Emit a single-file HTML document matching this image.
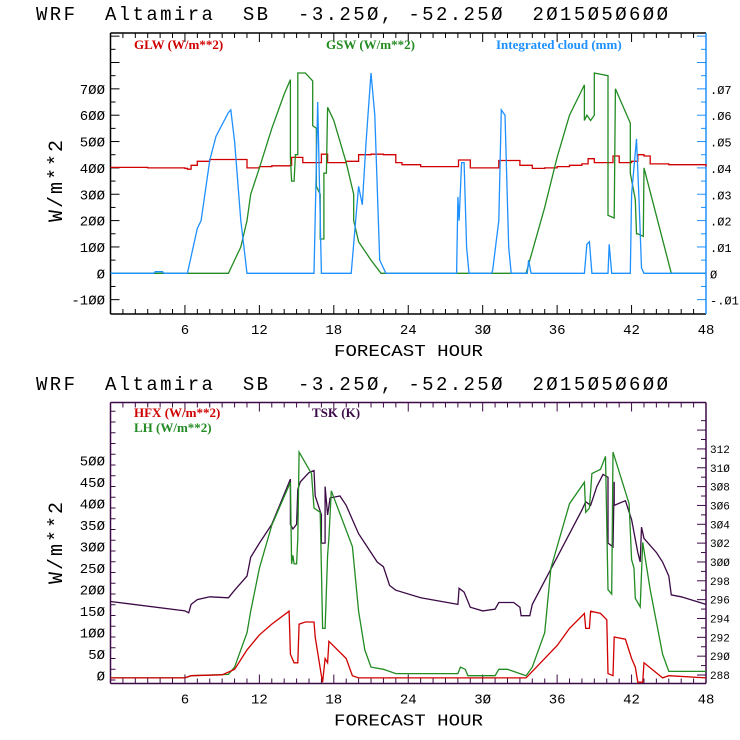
<!DOCTYPE html>
<html><head><meta charset="utf-8"><style>
html,body{margin:0;padding:0;background:#fff;}
svg{display:block;}
text{font-family:"Liberation Mono",monospace;}
.t{font-size:19px;}
.tk{font-size:14px;}
.lg{font-family:"Liberation Serif",serif;font-size:13px;font-weight:bold;}
</style></head><body>
<svg id="c" width="740" height="740" viewBox="0 0 740 740" xmlns="http://www.w3.org/2000/svg"></svg>
<script>
// ---- Top panel data ----
const glwHours=[0,3,6,6.2,6.5,7,8,10.5,11,12,13,14.5,14.6,15,15.5,17,17.5,19,20,21,22,23,23.5,25,28,28.05,28.5,29,31,31.3,32.5,33,34,35,36,37,38,38.5,39,40,40.5,41,42,42.5,43,43.5,45,48];
const glwVals=[402,400,398,395,410,425,432,432,400,405,408,410,440,440,420,452,420,425,450,452,450,420,412,405,405,430,430,400,400,428,428,410,398,400,405,410,415,435,420,420,445,420,425,450,445,415,412,405];
const gswHours=[0,9.5,10,10.5,11,11.3,12,13,14,14.5,14.5,14.6,14.8,14.9,15.1,15.1,15.7,16.3,16.3,16.6,16.6,16.9,16.9,17.2,17.2,17.4,17.5,18,19,19.6,19.6,20,21,21.8,33.5,35,36,37,38.2,38.2,38.4,38.7,39,39,40.1,40.1,40.6,40.7,41.9,41.9,42.3,42.4,42.5,42.95,43.0,45.2,48];
const gswVals=[0,0,50,100,200,300,400,550,680,735,440,350,350,450,450,760,760,730,560,550,330,300,130,130,380,380,630,580,420,300,200,120,50,0,0,250,440,600,715,580,600,580,600,760,750,220,210,700,570,380,280,150,150,140,400,0,0];
const cldHours=[0,3.5,3.6,4.2,4.3,6.2,7,7.3,8,8.5,9.5,9.7,10,10.5,11,16.4,16.7,17,19.4,19.8,20,20.3,20.6,21,21.3,21.7,22.2,27.9,28.0,28.1,28.3,28.5,28.7,28.9,30.7,30.8,31.3,31.5,31.8,32.1,32.3,33.6,33.7,33.9,38.2,38.4,38.6,38.8,40.1,40.2,40.4,41.9,42.0,42.4,42.6,42.8,43.0,48];
const cldVals=[0,0,0.0006,0.0006,0,0,0.017,0.02,0.043,0.052,0.061,0.062,0.05,0.02,0,0,0.065,0,0,0.022,0.033,0.026,0.05,0.076,0.06,0.005,0,0,0.029,0.02,0.042,0.042,0.01,0,0,0.001,0.02,0.062,0.06,0.01,0,0,0.005,0,0,0.011,0.012,0,0,0.011,0,0,0.03,0.051,0.028,0.002,0,0];
const topLeftTicks=[-100,0,100,200,300,400,500,600,700];
const topRightTicks=["-.01","0",".01",".02",".03",".04",".05",".06",".07"];
const xTicks=[6,12,18,24,30,36,42,48];
// ---- Bottom panel data ----
const tskHours=[0,6,6.3,6.5,7,8,9.5,10,11,11.3,12,13,14.5,14.5,14.7,15,15.1,15.3,16,16.4,16.5,17,17,17.3,17.3,17.5,17.7,18.5,19,19.5,20,20.5,21.5,22,22.5,23,25,28,28.1,28.5,29,30,31,31.3,32.5,33,33.1,33.8,34,35,36,37,38,38.3,38.7,39.2,39.7,40.1,40.1,40.5,40.6,40.6,41.5,42,42.5,42.7,42.8,43,44,44.5,45,45.2,46,48];
const tskVals=[295.8,294.8,294.6,295.5,296,296.3,296.2,297,298.5,300.5,302,304,308.8,304,303.5,304,307.7,308.5,309.5,309.7,307,305,302,302,308,305,306.8,307,306,304.5,303,302,300,299.5,297.5,297,296.2,295.5,297.2,296.8,295.2,294.8,295,295.7,295.7,295.2,294.3,294.3,295.5,298,300.5,303,305.5,306.4,306,308,309.3,309,302,301.6,308.5,306,306.5,304.5,301,300,303.7,302.5,301,300,298.5,296.5,296.3,295.5];
const lhHours=[0,6,6.5,9.5,10,11,11.3,12,13,14.5,14.6,14.7,14.8,15.0,15.1,15.2,16.2,16.4,16.9,17,17.1,17.3,17.5,17.6,17.8,19.5,20,20.5,21,22,23,28,28.2,28.6,28.8,31,31.3,32,33,33.5,34,35,35.5,37,38.2,38.3,38.6,38.8,39.5,39.9,40.1,40.4,40.5,41.8,42,42.2,42.3,42.7,42.9,43.5,44.5,45,48];
const lhVals=[-5,-5,0,3,20,100,150,250,350,450,260,280,260,260,320,520,470,390,380,250,110,110,280,320,430,300,150,60,20,15,5,5,20,15,0,0,15,15,5,0,20,100,250,400,450,380,390,470,480,510,200,190,520,400,270,250,180,160,310,200,50,10,10];
const hfxHours=[0,6,6.5,9,10,11,12,13,14.4,14.5,14.8,15.1,15.2,15.7,16.4,16.5,17,17.1,17.3,17.5,17.6,19,19.5,20,33.5,34,36,37,38.2,38.3,38.6,38.7,39.5,40,40.1,40.5,40.6,41.5,42,42.3,42.5,42.9,43,44.5,45,48];
const hfxVals=[-5,-5,0,2,15,60,95,120,150,50,30,30,120,125,125,90,0,-15,40,30,80,40,0,-5,-5,10,70,110,145,110,110,150,145,130,5,0,90,85,40,20,-15,-15,30,-5,0,-5];
const botLeftTicks=[0,50,100,150,200,250,300,350,400,450,500];
const botRightTicks=[288,290,292,294,296,298,300,302,304,306,308,310,312];

const svg=document.getElementById('c');
const NS='http://www.w3.org/2000/svg';
function mk(tag,attrs,parent){const e=document.createElementNS(NS,tag);for(const k in attrs)e.setAttribute(k,attrs[k]);(parent||svg).appendChild(e);return e;}
const X0=110.5,X1=706;
function xs(h){return X0+(X1-X0)*h/48;}

function frame(g,top,bot,leftCol,rightCol){
  let l=mk('line',{x1:X0,y1:top,x2:X1,y2:top,stroke:leftCol,'stroke-width':1.5},g);
  
  l=mk('line',{x1:X0,y1:bot,x2:X1,y2:bot,stroke:leftCol,'stroke-width':1.5},g);
  
  l=mk('line',{x1:X0,y1:top,x2:X0,y2:bot,stroke:leftCol,'stroke-width':1.5},g);
  
  l=mk('line',{x1:X1,y1:top,x2:X1,y2:bot,stroke:rightCol,'stroke-width':1.5},g);
  
  for(let h=1;h<48;h++){const x=xs(h);const len=h%6===0?9:5;
    mk('line',{x1:x,y1:top,x2:x,y2:top+len,stroke:leftCol},g);
    mk('line',{x1:x,y1:bot,x2:x,y2:bot-len,stroke:leftCol},g);}
}
function xaxis(g,bot){
  xTicks.forEach(h=>{const t=mk('text',{x:xs(h),y:bot+20,'text-anchor':'middle',class:'tk'},g);t.textContent=String(h).replace(/0/g,'Ø');
    });
  const t=mk('text',{x:334,y:bot+42,textLength:149,lengthAdjust:'spacingAndGlyphs',style:'font-size:17px'},g);
  t.textContent='FORECAST HOUR';
  
}
function title(g,y){const t=mk('text',{x:36,y:y,class:'t',textLength:632,lengthAdjust:'spacing'},g);
  t.setAttribute('xml:space','preserve');t.setAttribute('style','white-space:pre');
  t.textContent='WRF  Altamira  SB  -3.25Ø, -52.25Ø  2Ø15Ø5Ø6ØØ';
  }
function ytitle(g,cy){const t=mk('text',{x:-41,y:0,transform:`translate(62,${cy}) rotate(-90)`,textLength:82,lengthAdjust:'spacing',style:'font-size:20px'},g);
  t.textContent='W/m**2';}
function line(g,hours,vals,ys,col,name,step){let d='';hours.forEach((h,i)=>{
    if(i&&step)d+='L'+xs(h).toFixed(1)+','+ys(vals[i-1]).toFixed(1);
    d+=(i?'L':'M')+xs(h).toFixed(1)+','+ys(vals[i]).toFixed(1);});
  const p=mk('path',{d:d,fill:'none',stroke:col,'stroke-width':1.3},g);
  }
function legend(g,x,y,txt,col,name){const t=mk('text',{x:x,y:y,fill:col,class:'lg'},g);t.textContent=txt;
  }

// ---- top panel ----
const g1=mk('g',{});

const T1=33,B1=314;
const ys1=v=>273.3-v*0.2635;
const ys1r=v=>ys1(v*10000);
title(g1,20);
frame(g1,T1,B1,'#000','#1e90ff');
for(let v=-150;v<=900;v+=50){const y=ys1(v);if(y<T1+2||y>B1-2)continue;const len=v%100===0?9:5;
  mk('line',{x1:X0,y1:y,x2:X0+len,y2:y,stroke:'#000'},g1);
  mk('line',{x1:X1,y1:y,x2:X1-len,y2:y,stroke:'#1e90ff'},g1);}
topLeftTicks.forEach(v=>{const t=mk('text',{x:105,y:ys1(v)+5,'text-anchor':'end',class:'tk'},g1);t.textContent=String(v).replace(/0/g,'Ø');
  });
topRightTicks.forEach((s,i)=>{const t=mk('text',{x:710,y:ys1r(parseFloat(s))+5,class:'tk',style:'font-size:12px'},g1);t.textContent=s.replace(/0/g,'Ø');
  });
ytitle(g1,181);
line(g1,glwHours,glwVals,ys1,'#d00000','glw-line',true);
line(g1,gswHours,gswVals,ys1,'#228b22','gsw-line');
line(g1,cldHours,cldVals,ys1r,'#1e90ff','cloud-line');
legend(g1,134,49,'GLW (W/m**2)','#d00000','legend-glw');
legend(g1,326,49,'GSW (W/m**2)','#228b22','legend-gsw');
legend(g1,496,49,'Integrated cloud (mm)','#1e90ff','legend-cloud');
xaxis(g1,B1);

// ---- bottom panel ----
const g2=mk('g',{});

const T2=402.5,B2=683.5;
const ys2=v=>675.7-v*0.43;
const ys2r=k=>675-(k-288)*9.42;
title(g2,390);
frame(g2,T2,B2,'#3c0a46','#3c0a46');
for(let v=-10;v<=650;v+=25){const y=ys2(v);if(y<T2+2||y>B2-2)continue;const len=v%50===0?9:5;
  mk('line',{x1:X0,y1:y,x2:X0+len,y2:y,stroke:'#3c0a46'},g2);}
for(let k=288;k<=315;k+=1){const y=ys2r(k);if(y<T2+2||y>B2-2)continue;const len=k%2===0?9:5;
  mk('line',{x1:X1,y1:y,x2:X1-len,y2:y,stroke:'#3c0a46'},g2);}
botLeftTicks.forEach(v=>{const t=mk('text',{x:105,y:ys2(v)+5,'text-anchor':'end',class:'tk'},g2);t.textContent=String(v).replace(/0/g,'Ø');
  });
botRightTicks.forEach(k=>{const t=mk('text',{x:710,y:ys2r(k)+4,class:'tk',style:'font-size:11px'},g2);t.textContent=String(k).replace(/0/g,'Ø');
  });
ytitle(g2,543);
line(g2,tskHours,tskVals,ys2r,'#3c0a46','tsk-line');
line(g2,lhHours,lhVals,ys2,'#228b22','lh-line');
line(g2,hfxHours,hfxVals,ys2,'#d00000','hfx-line');
legend(g2,134,417,'HFX (W/m**2)','#d00000','legend-hfx');
legend(g2,134,432,'LH  (W/m**2)','#228b22','legend-lh');
legend(g2,312,417,'TSK (K)','#3c0a46','legend-tsk');
xaxis(g2,B2);
</script>
</body></html>
